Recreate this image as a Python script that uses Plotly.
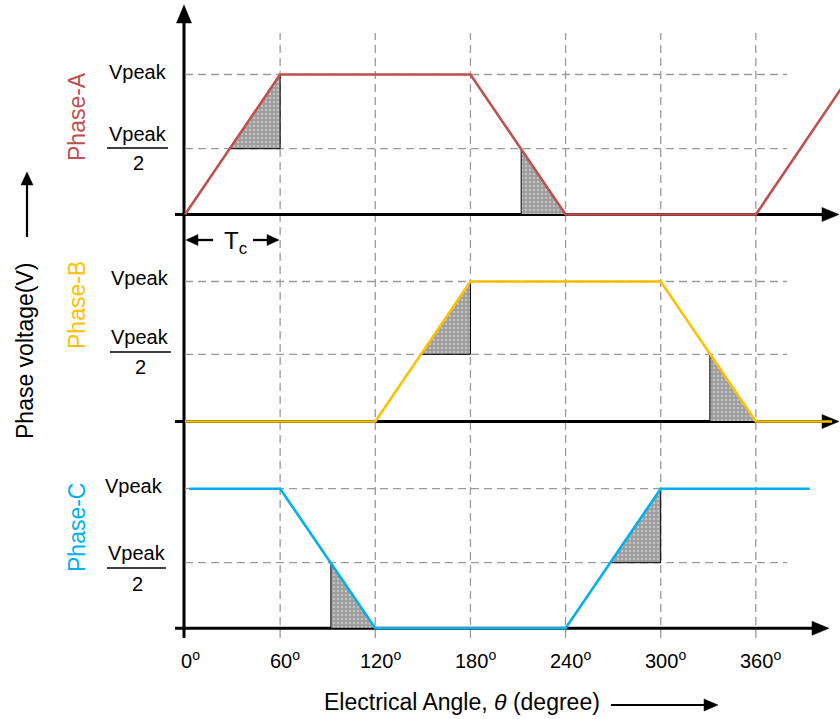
import plotly.graph_objects as go

W, H = 840, 719

# ---------------- data (angles in degrees, voltage in units of Vpeak) ----------------
grid_angles = [60, 120, 180, 240, 300, 360]
tick_angles = [0, 60, 120, 180, 240, 300, 360]
tick_labels = ["0", "60", "120", "180", "240", "300", "360"]
peak_level = 1.0
half_levels = [0.47, 0.48, 0.47]   # "Vpeak/2" level as drawn in each panel

phase_a_angle = [0, 60, 180, 240, 360, 415]
phase_a_volt = [0, 1, 1, 0, 0, 0.92]
phase_b_angle = [0, 120, 180, 300, 360, 408]
phase_b_volt = [0, 0, 1, 1, 0, 0]
phase_c_angle = [2.5, 60, 120, 240, 300, 394]
phase_c_volt = [1, 1, 0, 0, 1, 1]

shade_a_angle = [[28, 60, 60, 28], [212, 240, 212, 212]]
shade_a_volt = [[0.47, 1, 0.47, 0.47], [0.47, 0, 0, 0.47]]
shade_b_angle = [[149, 180, 180, 149], [331, 360, 331, 331]]
shade_b_volt = [[0.48, 1, 0.48, 0.48], [0.48, 0, 0, 0.48]]
shade_c_angle = [[92, 120, 92, 92], [268, 300, 300, 268]]
shade_c_volt = [[0.47, 0, 0, 0.47], [0.47, 1, 0.47, 0.47]]

phase_names = ["Phase-A", "Phase-B", "Phase-C"]
phase_colors = ["#C0504D", "#FFC000", "#00B0F0"]

# ---------------- layout geometry (pixels) ----------------
X0_PX, PX_PER_DEG = 185.0, 1.5857
deg_per_px = 1 / PX_PER_DEG
x_range = [-X0_PX * deg_per_px, (W - X0_PX) * deg_per_px]

# (domain top px, domain bottom px, zero px, Vpeak px)
panels = [(20, 234, 214.5, 74.5), (234, 441, 421.5, 281.5), (441, 650, 628.3, 488.7)]


def py(p):
    return 1 - p / H


def px(p):
    return p / W


def deg(p):
    return (p - X0_PX) * deg_per_px


FONT = "Arial, Liberation Sans, sans-serif"

fig = go.Figure()

axis_ids = ["y", "y2", "y3"]
layout_axes = {}
for i, (top, bot, zero, vp) in enumerate(panels):
    scale = zero - vp
    rng = [-(bot - zero) / scale, (zero - top) / scale]
    key = "yaxis" if i == 0 else f"yaxis{i + 1}"
    layout_axes[key] = dict(domain=[py(bot), py(top)], range=rng, visible=False,
                            anchor="x", fixedrange=True)

waves = [(phase_a_angle, phase_a_volt), (phase_b_angle, phase_b_volt), (phase_c_angle, phase_c_volt)]
shades = [(shade_a_angle, shade_a_volt), (shade_b_angle, shade_b_volt), (shade_c_angle, shade_c_volt)]

shapes = []
grid_style = dict(color="#9a9a9a", width=1.3, dash="8px,5px")
# vertical dashed grid
for a in grid_angles:
    shapes.append(dict(type="line", xref="x", yref="paper", x0=a, x1=a,
                       y0=py(638), y1=py(33), line=grid_style, layer="below"))
# horizontal dashed grid
grid_end = deg(787)
for i in range(3):
    for lv in (half_levels[i], peak_level):
        shapes.append(dict(type="line", xref="x", yref=axis_ids[i], x0=0, x1=grid_end,
                           y0=lv, y1=lv, line=grid_style, layer="below"))

# shaded triangles
for i, (sa, sv) in enumerate(shades):
    for xs, ys in zip(sa, sv):
        fig.add_trace(go.Scatter(
            x=xs, y=ys, yaxis=axis_ids[i], mode="lines", fill="toself",
            fillcolor="#9c9c9c",
            fillpattern=dict(shape=".", bgcolor="#9c9c9c", fgcolor="#e6e6e6", size=4, solidity=0.35),
            line=dict(color="black", width=1), hoverinfo="skip"))

# waveforms
for i, (xa, ya) in enumerate(waves):
    fig.add_trace(go.Scatter(
        x=xa, y=ya, yaxis=axis_ids[i], mode="lines",
        line=dict(color=phase_colors[i], width=2.6), hoverinfo="skip"))


def arrow(tail, tip, width, head_len, head_half, layer="above"):
    """Arrow drawn as a line + filled triangle path in pixel space (converted to paper)."""
    (tx, ty), (hx, hy) = tail, tip
    L = ((hx - tx) ** 2 + (hy - ty) ** 2) ** 0.5
    ux, uy = (hx - tx) / L, (hy - ty) / L
    bx, by = hx - ux * head_len, hy - uy * head_len
    nx, ny = -uy, ux
    out = [dict(type="line", xref="paper", yref="paper", x0=px(tx), y0=py(ty),
                x1=px(bx + ux * 2), y1=py(by + uy * 2),
                line=dict(color="black", width=width), layer=layer)]
    p1 = (bx + nx * head_half, by + ny * head_half)
    p2 = (bx - nx * head_half, by - ny * head_half)
    path = "M {:.5f},{:.5f} L {:.5f},{:.5f} L {:.5f},{:.5f} Z".format(
        px(hx), py(hy), px(p1[0]), py(p1[1]), px(p2[0]), py(p2[1]))
    out.append(dict(type="path", xref="paper", yref="paper", path=path,
                    fillcolor="black", line=dict(color="black", width=0.5), layer=layer))
    return out


# axes with arrowheads
shapes += arrow((184, 638), (184, 5), 3, 18, 7.5, layer="below")
axis_y_px = [p[2] for p in panels]
axis_tip_px = [839, 839, 829]
for yy, tip in zip(axis_y_px, axis_tip_px):
    shapes += arrow((175, yy), (tip, yy), 3, 17, 7, layer="below")

# Tc arrows
shapes += arrow((213, 240), (186, 240), 2.3, 12, 5.5)
shapes += arrow((253, 240), (279, 240), 2.3, 12, 5.5)
# side arrows
shapes += arrow((27, 237), (27, 172), 2.2, 13, 6)
shapes += arrow((611, 705), (718, 705), 2.2, 14, 6)

# fraction bars
frac_bars = [(107, 168, 148), (110, 171, 352), (107, 166, 568)]
for (a, b, yy) in frac_bars:
    shapes.append(dict(type="line", xref="paper", yref="paper", x0=px(a), x1=px(b),
                       y0=py(yy), y1=py(yy), line=dict(color="black", width=1.5)))

ann = []


def text_ann(x, y, text, size, color="black", angle=0, xanchor="center", xref="paper", xshift=0):
    return dict(xref=xref, yref="paper", x=x, y=y, text=text, showarrow=False,
                xanchor=xanchor, yanchor="middle", textangle=angle, xshift=xshift,
                font=dict(family=FONT, size=size, color=color))


ann.append(text_ann(px(235), py(242), "T<sub>c</sub>", 24))

# titles
ann.append(text_ann(px(25), py(351), "Phase voltage(V)", 23, angle=-90))
ann.append(text_ann(px(462), py(702), "Electrical Angle, <i>θ</i> (degree)", 23))

# phase names
name_y = [117, 305, 528]
for i in range(3):
    ann.append(text_ann(px(77), py(name_y[i]), phase_names[i], 23, color=phase_colors[i], angle=-90))

# Vpeak labels
vpeak_pos = [(169, 72), (171, 278), (165, 486)]
num_pos = [(138, 134), (140, 337), (137, 553)]
den_pos = [(138, 163), (140, 367), (137, 584)]
for i in range(3):
    ann.append(text_ann(px(vpeak_pos[i][0]), py(vpeak_pos[i][1]), "Vpeak", 20, xanchor="right"))
    ann.append(text_ann(px(num_pos[i][0]), py(num_pos[i][1]), "Vpeak", 20))
    ann.append(text_ann(px(den_pos[i][0]), py(den_pos[i][1]), "2", 20))

# tick labels
for a, lab in zip(tick_angles, tick_labels):
    ann.append(text_ann(a, py(659), lab + "<sup>o</sup>", 20, xref="x", xshift=5))

fig.update_layout(
    width=W, height=H,
    margin=dict(l=0, r=0, t=0, b=0),
    paper_bgcolor="white", plot_bgcolor="white",
    showlegend=False,
    xaxis=dict(domain=[0, 1], range=x_range, visible=False, fixedrange=True),
    shapes=shapes, annotations=ann,
    **layout_axes,
)

fig.write_html("out.html", post_script="document.body.style.margin='0';",
               config={"displayModeBar": False})
